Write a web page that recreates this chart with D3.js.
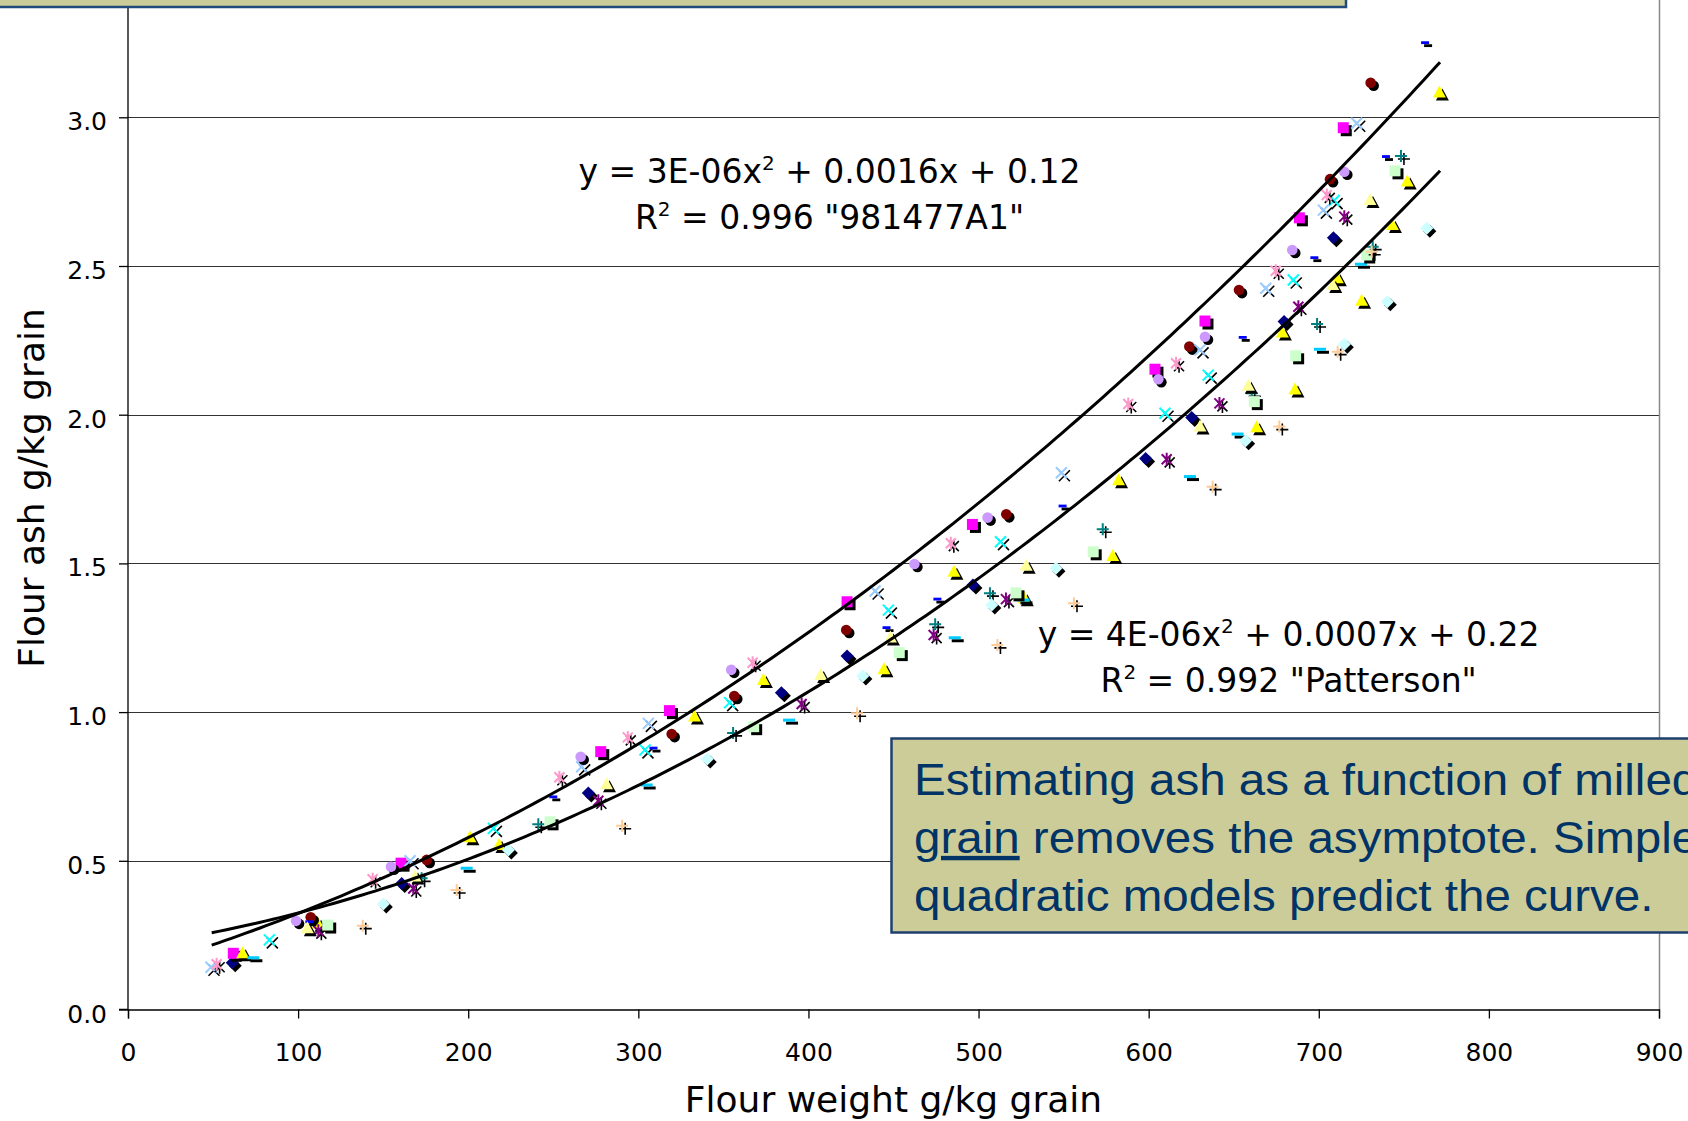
<!DOCTYPE html>
<html>
<head>
<meta charset="utf-8">
<script src="https://cdn.jsdelivr.net/npm/d3@7"></script>
<style>
body { margin: 0; background: #fff; overflow: hidden; }
svg { display: block; }
</style>
</head>
<body>
<svg id="chart" width="1688" height="1121"></svg>
<script>
// flour weight (g/kg grain), flour ash (g/kg grain) -- one array per plotted series
var navyDiamond = [[61.3,0.157],[160.9,0.424],[270.6,0.728],[384.1,1.065],[422.7,1.189],[496.7,1.427],[598.2,1.853],[625.3,1.991],[679.6,2.313],[708.6,2.595]];
var magentaSquare = [[61.9,0.189],[160.5,0.492],[277.9,0.867],[318.3,1.005],[422.7,1.371],[496.4,1.631],[603.7,2.153],[633.1,2.315],[688.6,2.662],[714.4,2.965]];
var yellowTriangle = [[67.4,0.189],[111.7,0.288],[201.0,0.579],[218.1,0.553],[333.0,0.985],[373.5,1.108],[444.4,1.144],[485.5,1.472],[526.9,1.383],[578.9,1.525],[582.3,1.780],[663.5,1.958],[678.6,2.276],[686.0,2.085],[710.9,2.459],[725.2,2.383],[743.3,2.638],[752.0,2.784],[770.9,3.083]];
var cyanX = [[83.1,0.234],[214.8,0.609],[303.9,0.873],[353.7,1.032],[447.0,1.343],[512.9,1.573],[609.6,2.005],[635.0,2.133],[685.0,2.453],[709.0,2.720]];
var purpleStar = [[111.9,0.265],[167.7,0.407],[276.5,0.702],[396.0,1.027],[473.6,1.259],[516.1,1.380],[610.6,1.850],[641.6,2.038],[688.0,2.363],[715.0,2.666]];
var darkRedCircle = [[107.4,0.310],[175.6,0.503],[319.6,0.926],[356.4,1.054],[422.2,1.276],[516.3,1.665],[623.9,2.229],[653.1,2.419],[706.6,2.792],[730.5,3.116]];
var tealPlus = [[172.6,0.441],[241.2,0.623],[355.7,0.930],[474.5,1.295],[506.7,1.400],[573.0,1.615],[660.6,2.072],[699.0,2.305],[731.7,2.565],[748.3,2.870]];
var blueDash = [[106.6,0.295],[250.0,0.715],[308.9,0.879],[445.9,1.284],[475.8,1.380],[549.4,1.693],[655.3,2.260],[697.4,2.528],[739.5,2.868],[762.5,3.251]];
var skyBlueDash = [[73.7,0.174],[199.1,0.475],[304.9,0.755],[388.6,0.973],[486.0,1.250],[526.4,1.377],[624.3,1.792],[652.3,1.935],[700.7,2.220],[724.8,2.506]];
var lightCyanDiamond = [[150.1,0.355],[223.6,0.536],[340.5,0.842],[432.0,1.121],[507.8,1.360],[545.5,1.484],[657.0,1.912],[715.0,2.237],[740.3,2.380],[763.5,2.627]];
var lightGreenSquare = [[117.4,0.284],[248.1,0.631],[367.8,0.951],[453.4,1.200],[522.0,1.401],[567.4,1.539],[662.1,2.044],[686.4,2.198],[728.2,2.537],[744.8,2.820]];
var lightYellowTriangle = [[105.4,0.273],[168.7,0.447],[281.3,0.757],[407.2,1.125],[448.2,1.251],[528.0,1.492],[630.2,1.960],[658.6,2.097],[708.2,2.436],[730.1,2.722]];
var paleBlueX = [[48.8,0.142],[165.8,0.500],[266.7,0.816],[305.9,0.962],[439.2,1.407],[548.7,1.805],[630.2,2.218],[668.8,2.425],[702.7,2.688],[722.3,2.980]];
var roseStar = [[52.1,0.152],[143.8,0.438],[253.6,0.781],[293.8,0.915],[367.2,1.166],[483.7,1.568],[588.0,2.036],[616.1,2.173],[674.7,2.484],[704.7,2.739]];
var lavenderCircle = [[98.8,0.298],[154.6,0.480],[266.1,0.850],[354.6,1.142],[462.3,1.498],[505.3,1.654],[605.7,2.119],[633.1,2.262],[684.4,2.554],[715.0,2.817]];
var tanPlus = [[138.0,0.282],[193.2,0.402],[290.5,0.618],[428.6,0.996],[511.1,1.226],[556.1,1.366],[637.6,1.758],[676.8,1.960],[711.1,2.212],[731.1,2.548]];

// polynomial trendlines: [a, b, c] for y = a x^2 + b x + c, over [xStart, xEnd]
var trend981477A1 = [3.0e-6, 0.00165, 0.128];
var trendPatterson = [3.335e-6, 0.000812, 0.21];
var trendRange = [49.2, 771.3];

var xTicks = [0, 100, 200, 300, 400, 500, 600, 700, 800, 900];
var yTicks = [0.0, 0.5, 1.0, 1.5, 2.0, 2.5, 3.0];

var series = [
  {data: navyDiamond, color: "#000080", shape: "diamond"},
  {data: magentaSquare, color: "#FF00FF", shape: "square"},
  {data: yellowTriangle, color: "#FFFF00", shape: "triangle"},
  {data: cyanX, color: "#00FFFF", shape: "x"},
  {data: purpleStar, color: "#800080", shape: "star"},
  {data: darkRedCircle, color: "#800000", shape: "circle"},
  {data: tealPlus, color: "#008080", shape: "plus"},
  {data: blueDash, color: "#0000FF", shape: "dash"},
  {data: skyBlueDash, color: "#00CCFF", shape: "longdash"},
  {data: lightCyanDiamond, color: "#CCFFFF", shape: "diamond"},
  {data: lightGreenSquare, color: "#CCFFCC", shape: "square"},
  {data: lightYellowTriangle, color: "#FFFF99", shape: "triangle"},
  {data: paleBlueX, color: "#99CCFF", shape: "x"},
  {data: roseStar, color: "#FF99CC", shape: "star"},
  {data: lavenderCircle, color: "#CC99FF", shape: "circle"},
  {data: tanPlus, color: "#FFCC99", shape: "plus"}
];

var shapes = {
  diamond:  {d: "M0,-6.5L6.5,0L0,6.5L-6.5,0Z", filled: true},
  square:   {d: "M-5.5,-5.5H5.5V5.5H-5.5Z", filled: true},
  triangle: {d: "M0,-7L6.5,5H-6.5Z", filled: true},
  circle:   {d: "M5.3,0A5.3,5.3 0 1,1 -5.3,0A5.3,5.3 0 1,1 5.3,0Z", filled: true},
  dash:     {d: "M-4,-1.4H4V1.4H-4Z", filled: true},
  longdash: {d: "M-6,-1.5H6V1.5H-6Z", filled: true},
  x:        {d: "M-5.5,-5.5L5.5,5.5M5.5,-5.5L-5.5,5.5", filled: false},
  star:     {d: "M-5,-5L5,5M5,-5L-5,5M0,-6.5V6.5", filled: false},
  plus:     {d: "M-6,0H6M0,-6V6", filled: false}
};

var svg = d3.select("#chart");
var font = "'DejaVu Sans', Verdana, sans-serif";

var x = d3.scaleLinear().domain([0, 900]).range([128, 1659]);
var y = d3.scaleLinear().domain([0, 3.5]).range([1009.5, 1009.5 - 3.5 * 297.4]);

// gridlines
svg.append("g").selectAll("line").data(yTicks.filter(function(d) { return d > 0; })).join("line")
  .attr("x1", x(0)).attr("x2", x(900))
  .attr("y1", function(d) { return Math.round(y(d)) + 0.5; })
  .attr("y2", function(d) { return Math.round(y(d)) + 0.5; })
  .attr("stroke", "#333").attr("stroke-width", 1.2);

// right border of plot area
svg.append("line").attr("x1", x(900) + 0.5).attr("x2", x(900) + 0.5)
  .attr("y1", 0).attr("y2", y(0)).attr("stroke", "#888").attr("stroke-width", 1.5);

// axes
var yAxis = svg.append("g").attr("transform", "translate(" + x(0) + ",0)")
  .call(d3.axisLeft(y).tickValues(yTicks).tickFormat(d3.format(".1f")).tickSize(9).tickPadding(12));
yAxis.selectAll("text").attr("dy", "0.5em");

var xAxis = svg.append("g").attr("transform", "translate(0," + y(0) + ")")
  .call(d3.axisBottom(x).tickValues(xTicks).tickFormat(d3.format("d")).tickSize(9).tickPadding(25));

[yAxis, xAxis].forEach(function(a) {
  a.select(".domain").attr("stroke", "#000").attr("stroke-width", 1.3);
  a.selectAll(".tick line").attr("stroke", "#000").attr("stroke-width", 1.3);
  a.selectAll("text").attr("font-family", font).attr("font-size", 25).attr("fill", "#000");
});
yAxis.select(".domain").attr("d", "M-9," + y(3.5) + "H0V" + y(0) + "H-9");

// markers with drop shadow
series.forEach(function(s) {
  var sh = shapes[s.shape];
  var g = svg.append("g");
  g.selectAll("path.shadow").data(s.data).join("path")
    .attr("class", "shadow")
    .attr("d", sh.d)
    .attr("transform", function(d) { return "translate(" + (x(d[0]) + 3) + "," + (y(d[1]) + 3) + ")"; })
    .attr("fill", sh.filled ? "#000" : "none")
    .attr("stroke", sh.filled ? "none" : "#000")
    .attr("stroke-width", 1.6);
  g.selectAll("path.mark").data(s.data).join("path")
    .attr("class", "mark")
    .attr("d", sh.d)
    .attr("transform", function(d) { return "translate(" + x(d[0]) + "," + y(d[1]) + ")"; })
    .attr("fill", sh.filled ? s.color : "none")
    .attr("stroke", sh.filled ? "none" : s.color)
    .attr("stroke-width", 2);
});

// trendlines
var line = d3.line().x(function(d) { return x(d[0]); }).y(function(d) { return y(d[1]); });
[trend981477A1, trendPatterson].forEach(function(c) {
  var pts = d3.range(trendRange[0], trendRange[1], 4).concat([trendRange[1]]).map(function(v) {
    return [v, c[0] * v * v + c[1] * v + c[2]];
  });
  svg.append("path").datum(pts).attr("d", line)
    .attr("fill", "none").attr("stroke", "#000").attr("stroke-width", 3);
});

// equation labels
function equation(cx, top, eq, r2) {
  var t = svg.append("text").attr("x", cx).attr("y", top).attr("text-anchor", "middle")
    .attr("font-family", font).attr("font-size", 33).attr("fill", "#000");
  t.append("tspan").text(eq[0]);
  t.append("tspan").attr("dy", -13).attr("font-size", 20).text("2");
  t.append("tspan").attr("dy", 13).text(eq[1]);
  var t2 = svg.append("text").attr("x", cx).attr("y", top + 46).attr("text-anchor", "middle")
    .attr("font-family", font).attr("font-size", 33).attr("fill", "#000");
  t2.append("tspan").text("R");
  t2.append("tspan").attr("dy", -13).attr("font-size", 20).text("2");
  t2.append("tspan").attr("dy", 13).text(r2);
}
equation(829.5, 183, ["y = 3E-06x", " + 0.0016x + 0.12"], " = 0.996 \"981477A1\"");
equation(1288.6, 646, ["y = 4E-06x", " + 0.0007x + 0.22"], " = 0.992 \"Patterson\"");

// axis titles
svg.append("text").attr("x", x(450)).attr("y", 1112).attr("text-anchor", "middle")
  .attr("font-family", font).attr("font-size", 36).attr("fill", "#000")
  .text("Flour weight g/kg grain");
svg.append("text").attr("transform", "translate(44,488) rotate(-90)").attr("text-anchor", "middle")
  .attr("font-family", font).attr("font-size", 36).attr("fill", "#000")
  .text("Flour ash g/kg grain");

// slide text boxes
svg.append("rect").attr("x", -5).attr("y", -5).attr("width", 1351).attr("height", 12)
  .attr("fill", "#CCCC99").attr("stroke", "#1F4A7A").attr("stroke-width", 2.5);

svg.append("rect").attr("x", 891.5).attr("y", 738.5).attr("width", 820).attr("height", 194)
  .attr("fill", "#CCCC99").attr("stroke", "#1F3F6F").attr("stroke-width", 2.5);

var note = svg.append("g").attr("transform", "translate(914,0) scale(1.08,1)")
  .attr("font-family", "'Liberation Sans', Arial, sans-serif").attr("font-size", 44).attr("fill", "#003366");
note.append("text").attr("x", 0).attr("y", 795).text("Estimating ash as a function of milled");
var l2 = note.append("text").attr("x", 0).attr("y", 853);
l2.append("tspan").attr("text-decoration", "underline").text("grain");
l2.append("tspan").text(" removes the asymptote. Simple");
note.append("text").attr("x", 0).attr("y", 911).text("quadratic models predict the curve.");
</script>
</body>
</html>
